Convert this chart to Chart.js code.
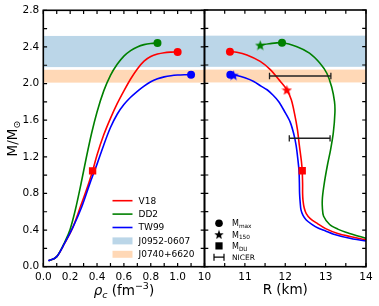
<!DOCTYPE html>
<html><head><meta charset="utf-8">
<script src="https://cdn.jsdelivr.net/npm/chart.js@4.4.1/dist/chart.umd.min.js"></script>
<style>
html,body{margin:0;padding:0;background:#fff;}
#wrap{position:relative;width:379px;height:306px;overflow:hidden;}
canvas{position:absolute;left:0;top:0;}
</style></head><body>
<div id="wrap"><canvas id="left" width="379" height="306"></canvas><canvas id="right" width="379" height="306"></canvas></div>
<script>
// ---------------- data ----------------
const eosNames = ['V18', 'DD2', 'TW99'];
const eosColors = ['#ff0000', '#008000', '#0000ff'];

// M vs central density
const rhoV18 = [0.04,0.10,0.16,0.22,0.28,0.34,0.367,0.40,0.45,0.50,0.55,0.60,0.65,0.70,0.75,0.80,0.85,0.90,0.95,1.00];
const massV18Rho = [0.065,0.11,0.26,0.43,0.67,0.92,1.047,1.22,1.44,1.62,1.78,1.92,2.05,2.16,2.245,2.295,2.322,2.337,2.343,2.345];
const rhoDD2 = [0.04,0.10,0.16,0.20,0.24,0.28,0.32,0.36,0.40,0.45,0.50,0.55,0.60,0.65,0.70,0.75,0.80,0.85];
const massDD2Rho = [0.065,0.11,0.27,0.41,0.63,0.90,1.19,1.46,1.69,1.92,2.09,2.21,2.30,2.36,2.40,2.425,2.438,2.443];
const rhoTW99 = [0.037,0.10,0.16,0.22,0.285,0.347,0.40,0.45,0.50,0.55,0.60,0.65,0.70,0.75,0.80,0.85,0.90,0.95,1.00,1.05,1.10];
const massTW99Rho = [0.065,0.11,0.26,0.43,0.65,0.91,1.12,1.33,1.52,1.665,1.77,1.85,1.915,1.972,2.02,2.052,2.073,2.086,2.093,2.096,2.097];

// M vs R
const radiusV18 = [10.63,10.8,11.05,11.38,11.63,11.88,12.04,12.15,12.23,12.30,12.35,12.40,12.42,12.43,12.43,12.44,12.47,12.52,12.62,12.8,13.0,13.3,13.6,14.0,14.3];
const massV18R = [2.345,2.34,2.31,2.24,2.15,2.02,1.93,1.82,1.67,1.50,1.32,1.15,1.047,0.90,0.80,0.72,0.64,0.58,0.525,0.47,0.415,0.362,0.33,0.295,0.28];
const radiusDD2 = [11.35,11.6,11.92,12.29,12.6,12.86,13.03,13.15,13.22,13.23,13.19,13.12,13.05,12.97,12.92,12.92,12.95,13.1,13.3,13.5,13.8,14.0,14.3];
const massDD2R = [2.415,2.432,2.443,2.40,2.33,2.22,2.11,1.96,1.80,1.68,1.46,1.27,1.12,0.92,0.75,0.64,0.55,0.46,0.41,0.375,0.335,0.31,0.29];
const radiusTW99 = [10.64,10.8,11.0,11.22,11.4,11.55,11.7,11.84,12.0,12.12,12.21,12.27,12.31,12.34,12.35,12.355,12.37,12.39,12.44,12.52,12.65,12.8,13.0,13.2,13.6,14.0,14.3];
const massTW99R = [2.095,2.085,2.06,2.02,1.97,1.93,1.87,1.80,1.68,1.58,1.45,1.32,1.18,1.05,0.92,0.80,0.70,0.62,0.56,0.51,0.465,0.425,0.39,0.355,0.31,0.28,0.265];

// special points (order V18, DD2, TW99)
const maxRho = [1.00, 0.85, 1.10];
const maxRadius = [10.63, 11.92, 10.64];
const maxMass = [2.345, 2.443, 2.095];
const m150Radius = [12.04, 11.38, 10.72];
const m150Mass = [1.93, 2.418, 2.09];
const duRho = [0.367];
const duRadius = [12.42];
const duMass = [1.047];

// observational bands
const bandLabels = ['J0952-0607', 'J0740+6620'];
const bandJ0952 = [2.18, 2.52];
const bandJ0740 = [2.01, 2.15];
const bandColors = ['rgba(31,119,180,0.3)', 'rgba(255,127,14,0.3)'];

// NICER error bars
const nicerMass = [2.08, 1.40];
const nicerRLow = [11.61, 12.10];
const nicerRHigh = [13.13, 13.11];

// axis ticks
const rhoMin = 0, rhoMax = 1.2, rhoStep = 0.2, rhoMinor = 0.1;
const rMin = 10, rMax = 14, rStep = 1, rMinor = 0.5;
const mMin = 0, mMax = 2.8, mStep = 0.4, mMinor = 0.2;

// ---------------- helpers ----------------
const FONT = "'DejaVu Sans', sans-serif";
const pts = (xs, ys) => xs.map((x, i) => ({x, y: ys[i]}));
function starImage(color, size) {
  const c = document.createElement('canvas'); c.width = size; c.height = size;
  const g = c.getContext('2d');
  const cx = size / 2, cy = size / 2 + size * 0.06, R = size / 2, r = R * 0.42;
  g.beginPath();
  for (let i = 0; i < 10; i++) {
    const a = -Math.PI / 2 + i * Math.PI / 5, rad = i % 2 ? r : R;
    g.lineTo(cx + rad * Math.cos(a), cy + rad * Math.sin(a));
  }
  g.closePath(); g.fillStyle = color; g.fill();
  return c;
}
function range(a, b, s) { const out = []; for (let v = a; v <= b + 1e-9; v += s) out.push(+v.toFixed(6)); return out; }

function drawRich(ctx, segs, x, y, align) {
  let w = 0;
  segs.forEach(s => { ctx.font = s.font; s.w = ctx.measureText(s.text).width; w += s.w; });
  let cx = align === 'center' ? x - w / 2 : x;
  ctx.textBaseline = 'alphabetic'; ctx.textAlign = 'left';
  segs.forEach(s => { ctx.font = s.font; ctx.fillText(s.text, cx, y + (s.dy || 0)); cx += s.w; });
}

const bandPlugin = {
  id: 'bands',
  beforeDatasetsDraw(chart) {
    const {ctx, chartArea: a, scales: {y}} = chart;
    ctx.save();
    [bandJ0952, bandJ0740].forEach((b, i) => {
      const y1 = y.getPixelForValue(b[1]), y0 = y.getPixelForValue(b[0]);
      ctx.fillStyle = bandColors[i];
      ctx.fillRect(a.left, y1, a.right - a.left, y0 - y1);
    });
    ctx.restore();
  }
};

const framePlugin = {
  id: 'frame',
  afterDatasetsDraw(chart, args, opts) {
    const {ctx, chartArea: a, scales: {x, y}} = chart;
    ctx.save();
    ctx.strokeStyle = '#000'; ctx.lineWidth = 1.2;
    const L = 3.8;
    ctx.beginPath();
    range(opts.xMin, opts.xMax, opts.xMinor).forEach(v => {
      const px = x.getPixelForValue(v);
      ctx.moveTo(px, a.bottom); ctx.lineTo(px, a.bottom - L);
      ctx.moveTo(px, a.top); ctx.lineTo(px, a.top + L);
    });
    range(mMin, mMax, mMinor).forEach(v => {
      const py = y.getPixelForValue(v);
      ctx.moveTo(a.left, py); ctx.lineTo(a.left + L, py);
      ctx.moveTo(a.right, py); ctx.lineTo(a.right - L, py);
    });
    ctx.stroke();
    ctx.lineWidth = 1.6;
    ctx.strokeRect(a.left, a.top, a.right - a.left, a.bottom - a.top);
    ctx.restore();
  }
};

const leftDecor = {
  id: 'leftDecor',
  afterDraw(chart) {
    const {ctx, chartArea: a} = chart;
    ctx.save();
    ctx.fillStyle = '#000';
    drawRich(ctx, [
      {text: 'ρ', font: `italic 13.5px ${FONT}`},
      {text: 'c', font: `italic 9.5px ${FONT}`, dy: 2.5},
      {text: ' (fm', font: `13.5px ${FONT}`},
      {text: '−3', font: `9.5px ${FONT}`, dy: -6},
      {text: ')', font: `13.5px ${FONT}`}
    ], (a.left + a.right) / 2, 295, 'center');
    ctx.save();
    ctx.translate(17, (a.top + a.bottom) / 2);
    ctx.rotate(-Math.PI / 2);
    drawRich(ctx, [
      {text: 'M/M', font: `13.5px ${FONT}`},
      {text: '⊙', font: `9.5px ${FONT}`, dy: 3}
    ], 0, 0, 'center');
    ctx.restore();
    const lx = 112.5, tx = 138.5;
    let ly = 200.7;
    ctx.font = `9px ${FONT}`; ctx.textBaseline = 'middle'; ctx.textAlign = 'left';
    eosNames.forEach((n, i) => {
      ctx.strokeStyle = eosColors[i]; ctx.lineWidth = 1.6;
      ctx.beginPath(); ctx.moveTo(lx, ly); ctx.lineTo(lx + 20, ly); ctx.stroke();
      ctx.fillStyle = '#000'; ctx.fillText(n, tx, ly + 0.5);
      ly += 13.4;
    });
    bandLabels.forEach((n, i) => {
      ctx.fillStyle = bandColors[i]; ctx.fillRect(lx, ly - 3.5, 20, 7);
      ctx.fillStyle = '#000'; ctx.fillText(n, tx, ly + 0.5);
      ly += 13.4;
    });
    ctx.restore();
  }
};

const rightDecor = {
  id: 'rightDecor',
  afterDraw(chart) {
    const {ctx, chartArea: a} = chart;
    ctx.save();
    ctx.fillStyle = '#000';
    drawRich(ctx, [{text: 'R (km)', font: `13.5px ${FONT}`}], (a.left + a.right) / 2, 294, 'center');
    const mx = 219, tx = 232;
    const rows = [223.3, 234.6, 245.9, 257.2];
    ctx.beginPath(); ctx.arc(mx, rows[0], 3.8, 0, Math.PI * 2); ctx.fill();
    ctx.drawImage(legendStar, mx - 5, rows[1] - 5.3);
    ctx.fillRect(mx - 3.6, rows[2] - 3.6, 7.2, 7.2);
    ctx.strokeStyle = '#000'; ctx.lineWidth = 1.2;
    ctx.beginPath();
    ctx.moveTo(mx - 5, rows[3]); ctx.lineTo(mx + 5, rows[3]);
    ctx.moveTo(mx - 5, rows[3] - 3.5); ctx.lineTo(mx - 5, rows[3] + 3.5);
    ctx.moveTo(mx + 5, rows[3] - 3.5); ctx.lineTo(mx + 5, rows[3] + 3.5);
    ctx.stroke();
    const subs = ['max', '150', 'DU'];
    subs.forEach((s, i) => drawRich(ctx, [
      {text: 'M', font: `8px ${FONT}`},
      {text: s, font: `5.8px ${FONT}`, dy: 1.8}
    ], tx, rows[i] + 3, 'left'));
    drawRich(ctx, [{text: 'NICER', font: `7.5px ${FONT}`}], tx, rows[3] + 3, 'left');
    ctx.restore();
  }
};

const legendStar = starImage('#000', 10);
const stars = eosColors.map(c => starImage(c, 11));

function fixW(w) { return s => { s.width = w; }; }
function fixH(h) { return s => { s.height = h; }; }

const AREA_TOP = 10, AREA_BOTTOM = 266.7;
const tickFont = {family: FONT, size: 10.5};

const lineDS = (label, data, color, order, mono) => ({
  label, data, borderColor: color, backgroundColor: color, borderWidth: 1.6,
  showLine: true, pointRadius: 0, pointHoverRadius: 0, order, fill: false,
  tension: mono ? 0.4 : 0.3, cubicInterpolationMode: mono ? 'monotone' : 'default'
});

// ---------------- left chart ----------------
new Chart(document.getElementById('left'), {
  type: 'scatter',
  data: {
    datasets: [
      {label: 'du', data: pts(duRho, duMass), pointStyle: 'rect', pointRadius: 5.2, backgroundColor: eosColors[0], borderWidth: 0, order: 0},
      {label: 'max', data: pts(maxRho, maxMass), pointStyle: 'circle', pointRadius: 4, backgroundColor: eosColors, borderWidth: 0, order: 0},
      lineDS(eosNames[2], pts(rhoTW99, massTW99Rho), eosColors[2], 1, true),
      lineDS(eosNames[1], pts(rhoDD2, massDD2Rho), eosColors[1], 2, true),
      lineDS(eosNames[0], pts(rhoV18, massV18Rho), eosColors[0], 3, true)
    ]
  },
  options: {
    responsive: false, devicePixelRatio: 1, animation: false,
    layout: {padding: {left: 0, right: 379 - 204.5, top: AREA_TOP, bottom: 0}},
    plugins: {legend: {display: false}, tooltip: {enabled: false}, frame: {xMin: rhoMin, xMax: rhoMax, xMinor: rhoMinor}},
    scales: {
      x: {type: 'linear', min: rhoMin, max: rhoMax, afterFit: fixH(306 - AREA_BOTTOM),
          grid: {display: false, drawTicks: false}, border: {display: false},
          ticks: {stepSize: rhoStep, font: tickFont, color: '#000', padding: 4, maxRotation: 0, autoSkip: false,
                  callback: v => v > 1.05 ? '' : (+v).toFixed(1)}},
      y: {type: 'linear', min: mMin, max: mMax, afterFit: fixW(43.3),
          grid: {display: false, drawTicks: false}, border: {display: false},
          ticks: {stepSize: mStep, font: tickFont, color: '#000', padding: 4, callback: v => (+v).toFixed(1)}}
    }
  },
  plugins: [bandPlugin, framePlugin, leftDecor]
});

// ---------------- right chart ----------------
const errDS = (i) => ({
  label: 'NICER', data: [{x: nicerRLow[i], y: nicerMass[i]}, {x: nicerRHigh[i], y: nicerMass[i]}],
  showLine: true, borderColor: '#222', backgroundColor: '#222', borderWidth: 1.5,
  pointStyle: 'line', pointRotation: 90, pointRadius: 3.2, pointBorderWidth: 1.3, tension: 0, order: 0.5
});
new Chart(document.getElementById('right'), {
  type: 'scatter',
  data: {
    datasets: [
      {label: 'du', data: pts(duRadius, duMass), pointStyle: 'rect', pointRadius: 5.2, backgroundColor: eosColors[0], borderWidth: 0, order: 0},
      {label: 'max', data: pts(maxRadius, maxMass), pointStyle: 'circle', pointRadius: 4, backgroundColor: eosColors, borderWidth: 0, order: 0},
      {label: 'm150', data: pts(m150Radius, m150Mass), pointStyle: stars, pointRadius: 5, backgroundColor: eosColors, borderWidth: 0, order: 0.2},
      errDS(0), errDS(1),
      lineDS(eosNames[2], pts(radiusTW99, massTW99R), eosColors[2], 1, false),
      lineDS(eosNames[1], pts(radiusDD2, massDD2R), eosColors[1], 2, false),
      lineDS(eosNames[0], pts(radiusV18, massV18R), eosColors[0], 3, false)
    ]
  },
  options: {
    responsive: false, devicePixelRatio: 1, animation: false,
    layout: {padding: {left: 204.5, right: 379 - 366, top: AREA_TOP, bottom: 0}},
    plugins: {legend: {display: false}, tooltip: {enabled: false}, frame: {xMin: rMin, xMax: rMax, xMinor: rMinor}},
    scales: {
      x: {type: 'linear', min: rMin, max: rMax, afterFit: fixH(306 - AREA_BOTTOM),
          grid: {display: false, drawTicks: false}, border: {display: false},
          ticks: {stepSize: rStep, font: tickFont, color: '#000', padding: 4, maxRotation: 0, autoSkip: false,
                  callback: v => String(Math.round(v))}},
      y: {type: 'linear', min: mMin, max: mMax, display: false}
    }
  },
  plugins: [bandPlugin, framePlugin, rightDecor]
});
</script></body></html>
